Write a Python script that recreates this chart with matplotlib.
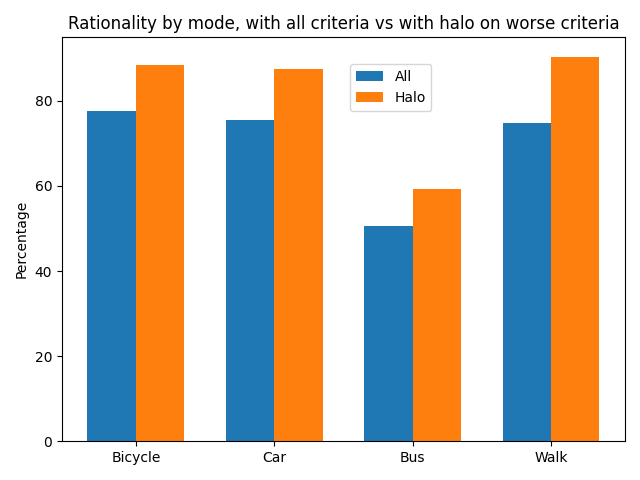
import numpy as np
import matplotlib
matplotlib.use('Agg')
import matplotlib.pyplot as plt

modos = ['Bicycle', 'Car', 'Bus', 'Walk']
todos = [77.6, 75.4, 50.6, 74.9]
halo = [88.4, 87.4, 59.2, 90.4]

x = np.arange(len(modos))
largura = 0.35

fig, ax = plt.subplots(figsize=(6.4, 4.8), dpi=100)
ax.bar(x - largura / 2, todos, largura, label='All')
ax.bar(x + largura / 2, halo, largura, label='Halo')

ax.set_ylabel('Percentage')
ax.set_title('Rationality by mode, with all criteria vs with halo on worse criteria')
ax.set_xticks(x)
ax.set_xticklabels(modos)
ax.legend(loc='upper center', bbox_to_anchor=(0.584, 0.95))

fig.tight_layout()
fig.savefig('out.png')
